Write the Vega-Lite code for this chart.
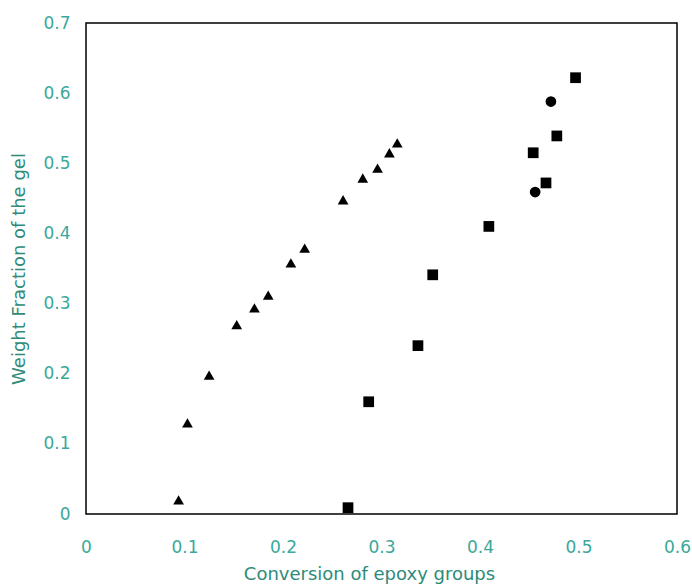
{
  "$schema": "https://vega.github.io/schema/vega-lite/v6.json",
  "autosize": "none",
  "width": 591,
  "height": 491,
  "padding": {"left": 86, "top": 23, "right": 15, "bottom": 73},
  "background": "white",
  "config": {
    "view": {"stroke": "black", "strokeWidth": 1.5},
    "axis": {
      "grid": false,
      "domain": false,
      "ticks": false,
      "labelFont": "DejaVu Sans",
      "labelFontSize": 17,
      "labelColor": "#3aa89a",
      "titleFont": "DejaVu Sans",
      "titleFontSize": 18,
      "titleFontWeight": "normal",
      "titleColor": "#2e8b7a"
    }
  },
  "data": {
    "values": [
      {"x": 0.094, "y": 0.020, "s": "triangle"},
      {"x": 0.103, "y": 0.130, "s": "triangle"},
      {"x": 0.125, "y": 0.198, "s": "triangle"},
      {"x": 0.153, "y": 0.270, "s": "triangle"},
      {"x": 0.171, "y": 0.294, "s": "triangle"},
      {"x": 0.185, "y": 0.312, "s": "triangle"},
      {"x": 0.208, "y": 0.358, "s": "triangle"},
      {"x": 0.222, "y": 0.379, "s": "triangle"},
      {"x": 0.261, "y": 0.448, "s": "triangle"},
      {"x": 0.281, "y": 0.479, "s": "triangle"},
      {"x": 0.296, "y": 0.493, "s": "triangle"},
      {"x": 0.308, "y": 0.515, "s": "triangle"},
      {"x": 0.316, "y": 0.529, "s": "triangle"},
      {"x": 0.266, "y": 0.009, "s": "square"},
      {"x": 0.287, "y": 0.160, "s": "square"},
      {"x": 0.337, "y": 0.240, "s": "square"},
      {"x": 0.352, "y": 0.341, "s": "square"},
      {"x": 0.409, "y": 0.410, "s": "square"},
      {"x": 0.467, "y": 0.472, "s": "square"},
      {"x": 0.454, "y": 0.515, "s": "square"},
      {"x": 0.478, "y": 0.539, "s": "square"},
      {"x": 0.497, "y": 0.622, "s": "square"},
      {"x": 0.456, "y": 0.459, "s": "circle"},
      {"x": 0.472, "y": 0.588, "s": "circle"}
    ]
  },
  "mark": {"type": "point", "filled": true, "color": "black", "opacity": 1, "size": 115},
  "encoding": {
    "x": {
      "field": "x", "type": "quantitative",
      "scale": {"domain": [0, 0.6], "nice": false, "zero": false},
      "axis": {"values": [0, 0.1, 0.2, 0.3, 0.4, 0.5, 0.6], "format": "~g", "labelPadding": 25, "title": "Conversion of epoxy groups", "titlePadding": 10, "titleX": 283, "labelFlush": false}
    },
    "y": {
      "field": "y", "type": "quantitative",
      "scale": {"domain": [0, 0.7], "nice": false, "zero": false},
      "axis": {"values": [0, 0.1, 0.2, 0.3, 0.4, 0.5, 0.6, 0.7], "format": "~g", "labelPadding": 16, "title": "Weight Fraction of the gel", "titlePadding": 14, "labelFlush": false}
    },
    "shape": {
      "field": "s", "type": "nominal",
      "scale": {"domain": ["triangle", "square", "circle"], "range": ["triangle-up", "square", "circle"]},
      "legend": null
    }
  }
}
